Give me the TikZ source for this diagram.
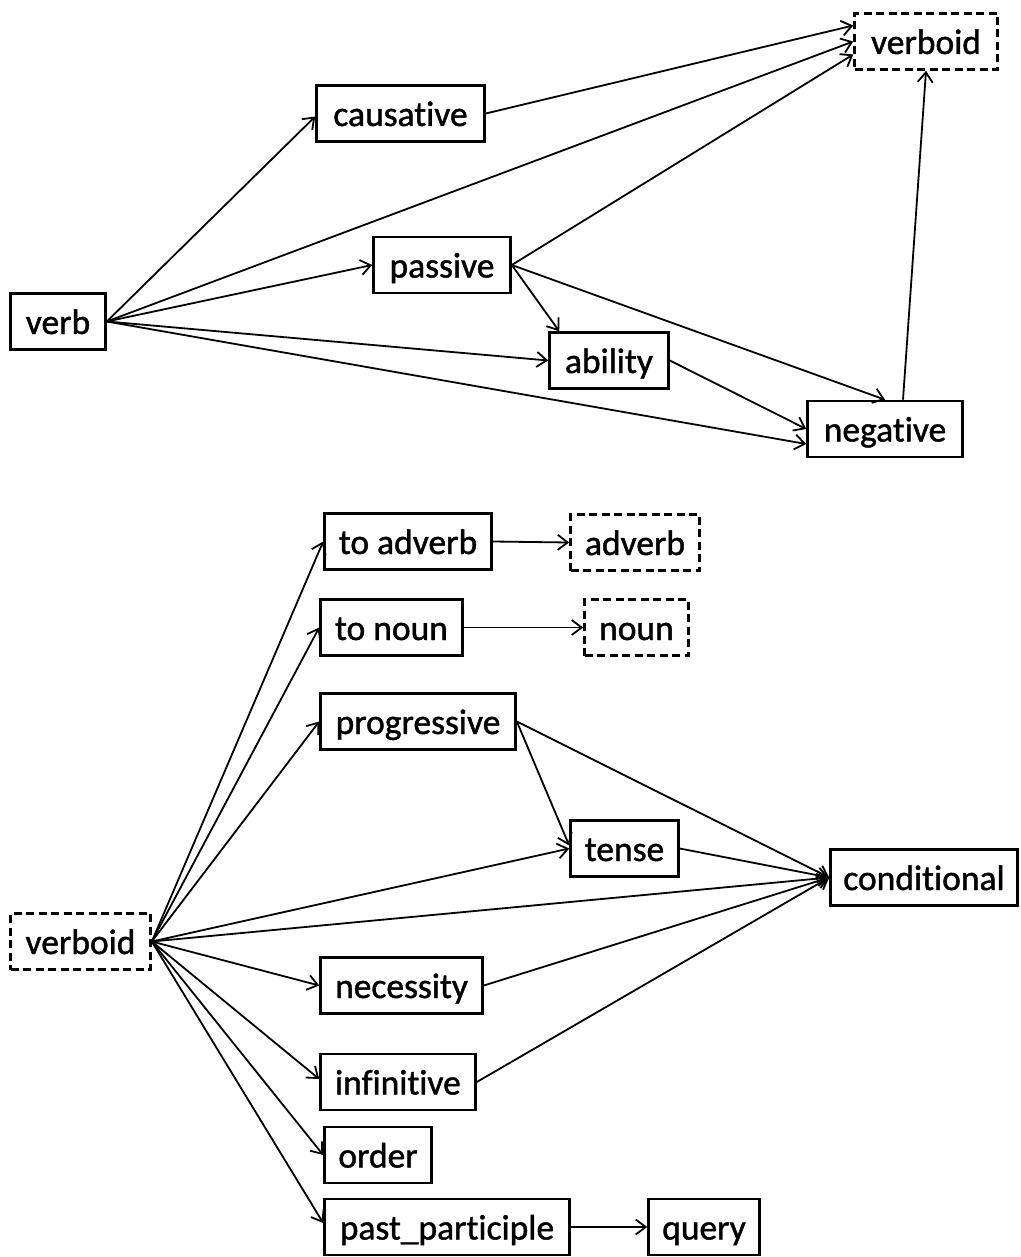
\documentclass[tikz,border=0pt]{standalone}
\usepackage{fontspec}
\newfontfamily\lbl{Carlito}[FakeBold=1.2, Ligatures=NoCommon]
\usetikzlibrary{arrows.meta}

\tikzset{
  box/.style={draw, line width=2.6pt, inner sep=0pt, minimum height=56pt,
              text height=25pt, text depth=0pt,
              font=\lbl\fontsize{35.5}{40}\selectfont},
  virtual/.style={box, dash pattern=on 8pt off 4.5pt},
  conn/.style={line width=1.8pt, -{Straight Barb[length=10pt,width=15pt]}},
}

\begin{document}
\begin{tikzpicture}[x=1pt,y=-1pt]
\useasboundingbox (0,0) rectangle (1020,1257);

% ---- verb derivations ----
\node[box, minimum width=95pt]  (verb)      at (58,321.5)  {verb};
\node[box, minimum width=168pt] (causative) at (400.5,113.5) {causative};
\node[box, minimum width=137pt] (passive)   at (442,265)   {passive};
\node[virtual, minimum width=143pt] (vtop)  at (926,41.5)  {verboid};
\node[box, minimum width=119pt] (ability)   at (609,360.5) {ability};
\node[box, minimum width=155pt] (negative)  at (885,429)   {negative};

\draw[conn] (verb.east) -- ([yshift=-3pt]causative.west);
\draw[conn] (verb.east) -- (vtop.west);
\draw[conn] (causative.east) -- ([yshift=16pt]vtop.west);
\draw[conn] (passive.east) -- ([yshift=-13pt]vtop.west);
\draw[conn] (verb.east) -- (passive.west);
\draw[conn] (verb.east) -- (ability.west);
\draw[conn] (verb.east) -- ([yshift=-15pt]negative.west);
\draw[conn] (passive.east) -- ([xshift=11pt]ability.north west);
\draw[conn] (passive.east) -- (negative.north);
\draw[conn] (ability.east) -- (negative.west);
\draw[conn] ([xshift=18pt]negative.north) -- (vtop.south);

% ---- verboid derivations ----
\node[virtual, minimum width=140pt] (vbot)   at (80.5,941.5) {verboid};
\node[box, minimum width=167pt] (toadverb)   at (408,541.5)  {to adverb};
\node[virtual, minimum width=129pt] (adverb) at (635,542.5)  {adverb};
\node[box, minimum width=142pt] (tonoun)     at (391.5,627.5) {to noun};
\node[virtual, minimum width=104pt] (noun)   at (636.5,627.5) {noun};
\node[box, minimum width=195pt] (progressive) at (418,721.5) {progressive};
\node[box, minimum width=108pt] (tense)      at (624.5,848.5) {tense};
\node[box, minimum width=187pt] (conditional) at (924,877.5) {conditional};
\node[box, minimum width=162pt] (necessity)  at (401.5,985.5) {necessity};
\node[box, minimum width=155pt] (infinitive) at (398,1082)   {infinitive};
\node[box, minimum width=107pt] (order)      at (378,1155)   {order};
\node[box, minimum width=245pt] (pastp)      at (447,1227)   {past\_participle};
\node[box, minimum width=111pt] (query)      at (704,1227)   {query};

\draw[conn] (vbot.east) -- (toadverb.west);
\draw[conn] (vbot.east) -- (tonoun.west);
\draw[conn] (vbot.east) -- (progressive.west);
\draw[conn] (vbot.east) -- (tense.west);
\draw[conn] (vbot.east) -- (conditional.west);
\draw[conn] (vbot.east) -- (necessity.west);
\draw[conn] (vbot.east) -- ([yshift=3pt]infinitive.west);
\draw[conn] (vbot.east) -- (order.west);
\draw[conn] (vbot.east) -- ([yshift=4pt]pastp.west);

\draw[conn] (toadverb.east) -- (adverb.west);
\draw[conn] (tonoun.east) -- (noun.west);
\draw[conn] (progressive.east) -- ([yshift=3pt]tense.west);
\draw[conn] (progressive.east) -- (conditional.west);
\draw[conn] (tense.east) -- (conditional.west);
\draw[conn] (necessity.east) -- (conditional.west);
\draw[conn] (infinitive.east) -- (conditional.west);
\draw[conn] (pastp.east) -- (query.west);
\end{tikzpicture}
\end{document}
